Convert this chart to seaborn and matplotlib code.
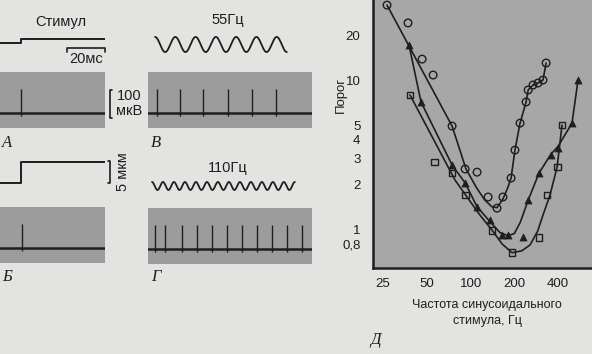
import numpy as np
import matplotlib
matplotlib.use("Agg")
import matplotlib.pyplot as plt
import seaborn as sns

W, H = 592, 354
PAGE = "#e3e3e1"
BOX = "#9c9c9c"
PLOT_BG = "#a7a7a7"
INK = "#1e1e1e"

# --- stimulus steps (A, Б), ms / мкм ---
step_time_ms = [0, 11, 11, 55]
step_a_um = [0, 0, 1, 1]
step_b_um = [0, 0, 5, 5]

# --- sine stimuli (В, Г) ---
sine_freqs = ["55Гц", "110Гц"]
sine_cycles = [6.5, 13]
sine_amp_um = [1.8, 0.95]
sine_span_ms = [(3.7, 72.8), (2.1, 77.0)]

# --- spike times in records, ms ---
spikes_a_ms = [11.0]
spikes_b_ms = [11.4]
spikes_v_ms = [4.7, 16.8, 28.8, 41.9, 54.5, 67.0]
spikes_g_ms = [3.7, 8.9, 17.8, 25.7, 33.5, 41.4, 49.2, 57.1, 65.0, 72.8, 80.7]
spike_top_uv = 85
spike_bottom_uv = -12

# --- threshold curves (Д) ---
c1_line_freq = [26.6, 74.6, 93, 110, 125, 140, 152, 167, 180, 190, 202, 219, 241, 249, 269, 291, 315, 331]
c1_line_thr = [31.7, 4.92, 2.54, 1.9, 1.58, 1.42, 1.40, 1.6, 1.9, 2.21, 3.40, 5.15, 7.13, 8.57, 9.26, 9.55, 10.0, 13.0]
c1_pts_freq = [26.6, 37.1, 46.4, 55.2, 74.6, 91.7, 110.8, 132, 152, 167, 190, 202, 219, 241, 249, 269, 291, 315, 331]
c1_pts_thr = [31.7, 24.1, 13.8, 10.8, 4.92, 2.54, 2.42, 1.65, 1.39, 1.65, 2.21, 3.40, 5.15, 7.13, 8.57, 9.26, 9.55, 10.0, 13.0]

c2_line_freq = [37.7, 45.6, 74.6, 91.7, 110.8, 136, 160, 181, 200, 220, 249, 296, 358, 400, 499, 549]
c2_line_thr = [17.1, 7.13, 2.70, 2.05, 1.42, 1.13, 0.95, 0.91, 0.94, 1.12, 1.57, 2.39, 3.2, 3.6, 5.15, 10.0]
c2_pts_freq = [37.7, 45.6, 74.6, 91.7, 110.8, 136, 164.7, 181, 230, 249, 296, 358, 400, 499, 549]
c2_pts_thr = [17.1, 7.13, 2.70, 2.05, 1.41, 1.16, 0.92, 0.92, 0.89, 1.57, 2.39, 3.15, 3.51, 5.15, 10.0]

c3_line_freq = [38.3, 78.2, 91.7, 116, 140.6, 165, 193, 225, 257, 290, 315, 352, 394, 426]
c3_line_thr = [7.94, 2.14, 1.72, 1.25, 0.99, 0.80, 0.70, 0.72, 0.79, 0.98, 1.25, 1.70, 2.62, 5.0]
c3_pts_freq = [38.3, 56.1, 74.6, 91.7, 140.6, 193, 296, 336, 394, 426]
c3_pts_thr = [7.94, 2.83, 2.39, 1.70, 0.99, 0.70, 0.89, 1.70, 2.62, 5.0]

x_ticks = [25, 50, 100, 200, 400]
y_ticks = [0.8, 1, 2, 3, 4, 5, 10, 20]
y_tick_labels = ["0,8", "1", "2", "3", "4", "5", "10", "20"]

sns.set_theme(style="white")
plt.rcParams["font.family"] = ["Liberation Sans", "DejaVu Sans"]

fig = plt.figure(figsize=(W / 100, H / 100), dpi=100, facecolor=PAGE)


def px_axes(x0, y0, x1, y1):
    return fig.add_axes([x0 / W, 1 - y1 / H, (x1 - x0) / W, (y1 - y0) / H])


def px_text(x, y, s, **kw):
    kw.setdefault("color", INK)
    kw.setdefault("ha", "center")
    kw.setdefault("va", "center")
    fig.text(x / W, 1 - y / H, s, **kw)


def bare(ax):
    ax.set_axis_off()
    ax.patch.set_alpha(0)


# step stimuli
for steps, top in [(step_a_um, 11.8), (step_b_um, 151.5)]:
    ax = px_axes(0, top, 105, top + 44)
    sns.lineplot(x=step_time_ms, y=steps, ax=ax, color=INK, lw=1.4, sort=False, estimator=None)
    ax.set_xlim(0, 55)
    ax.set_ylim(-3, 7.5)
    bare(ax)
    if steps is step_a_um:
        ax.plot([35, 35, 55, 55], [-2.1, -1.1, -1.1, -2.1], color=INK, lw=1.2, clip_on=False)
    else:
        ax.plot([56.4, 57.6, 57.6, 56.4], [0, 0, 5.2, 5.2], color=INK, lw=1.2, clip_on=False)

px_text(61, 22, "Стимул", fontsize=10.5)
px_text(86, 59, "20мс", fontsize=10.5)
px_text(123, 172, "5 мкм", fontsize=10.5, rotation=90)

# sine stimuli
for freq, cyc, amp, (t0, t1), ymid, ylab in zip(sine_freqs, sine_cycles, sine_amp_um, sine_span_ms,
                                                [44.5, 186], [20, 168]):
    ax = px_axes(148, ymid - 10, 312, ymid + 10)
    t = np.linspace(t0, t1, 400)
    wave = amp * np.cos(2 * np.pi * cyc * (t - t0) / (t1 - t0))
    sns.lineplot(x=t, y=wave, ax=ax, color=INK, lw=1.3, sort=False, estimator=None)
    ax.set_xlim(0, 86)
    ax.set_ylim(-2.38, 2.38)
    bare(ax)
    px_text(228, ylab, freq, fontsize=10.5)

# extracellular records
records = [
    (0, 72, 105, 128, 55, spikes_a_ms),
    (148, 72, 312, 128, 86, spikes_v_ms),
    (0, 207, 105, 263, 55, spikes_b_ms),
    (148, 208, 312, 264, 86, spikes_g_ms),
]
for x0, y0, x1, y1, tmax, spikes in records:
    ax = px_axes(x0, y0, x1, y1)
    ax.set_facecolor(BOX)
    for s in ax.spines.values():
        s.set_visible(False)
    ax.set_xticks([])
    ax.set_yticks([])
    ax.axhline(0, color=INK, lw=1.8)
    ax.vlines(spikes, spike_bottom_uv, spike_top_uv, color=INK, lw=1.0)
    ax.set_xlim(0, tmax)
    ax.set_ylim(-54, 146)
    if spikes is spikes_a_ms:
        ax.plot([58.8, 57.6, 57.6, 58.8], [-18, -18, 82, 82], color=INK, lw=1.2, clip_on=False)

px_text(129, 96, "100", fontsize=10.5)
px_text(129, 111, "мкВ", fontsize=10.5)

for lab, x, y in [("А", 7, 143), ("В", 156, 143), ("Б", 7, 277), ("Г", 156, 277), ("Д", 376, 340)]:
    px_text(x, y, lab, fontsize=12, style="italic", family=["Liberation Serif", "DejaVu Serif"])

# threshold curves
ax = px_axes(373, 0, 592, 268)
ax.set_facecolor(PLOT_BG)
for lf, lt in [(c1_line_freq, c1_line_thr), (c2_line_freq, c2_line_thr), (c3_line_freq, c3_line_thr)]:
    sns.lineplot(x=lf, y=lt, ax=ax, color=INK, lw=1.2, sort=False, estimator=None)
sns.scatterplot(x=c1_pts_freq, y=c1_pts_thr, ax=ax, marker="o", s=30, facecolor="none",
                edgecolor=INK, linewidth=1.0, zorder=3)
sns.scatterplot(x=c2_pts_freq, y=c2_pts_thr, ax=ax, marker="^", s=26, color=INK,
                edgecolor=INK, linewidth=0.5, zorder=3)
sns.scatterplot(x=c3_pts_freq, y=c3_pts_thr, ax=ax, marker="s", s=24, facecolor="none",
                edgecolor=INK, linewidth=1.0, zorder=3)
ax.set_xscale("log")
ax.set_yscale("log")
ax.set_xlim(21.3, 685)
ax.set_ylim(0.553, 34.3)
ax.minorticks_off()
ax.set_xticks(x_ticks)
ax.set_xticklabels([str(v) for v in x_ticks])
ax.set_yticks(y_ticks)
ax.set_yticklabels(y_tick_labels)
ax.tick_params(direction="in", length=8, width=1.3, colors=INK, labelsize=9.5)
ax.tick_params(axis="y", pad=9)
ax.tick_params(axis="x", pad=7)
for side in ["top", "right"]:
    ax.spines[side].set_visible(False)
for side in ["left", "bottom"]:
    ax.spines[side].set_color(INK)
    ax.spines[side].set_linewidth(1.8)

px_text(341, 95, "Порог", fontsize=9.5, rotation=90)
px_text(487, 313, "Частота синусоидального\nстимула, Гц", fontsize=9, linespacing=1.35)

fig.savefig("out.png", dpi=100, facecolor=PAGE)
